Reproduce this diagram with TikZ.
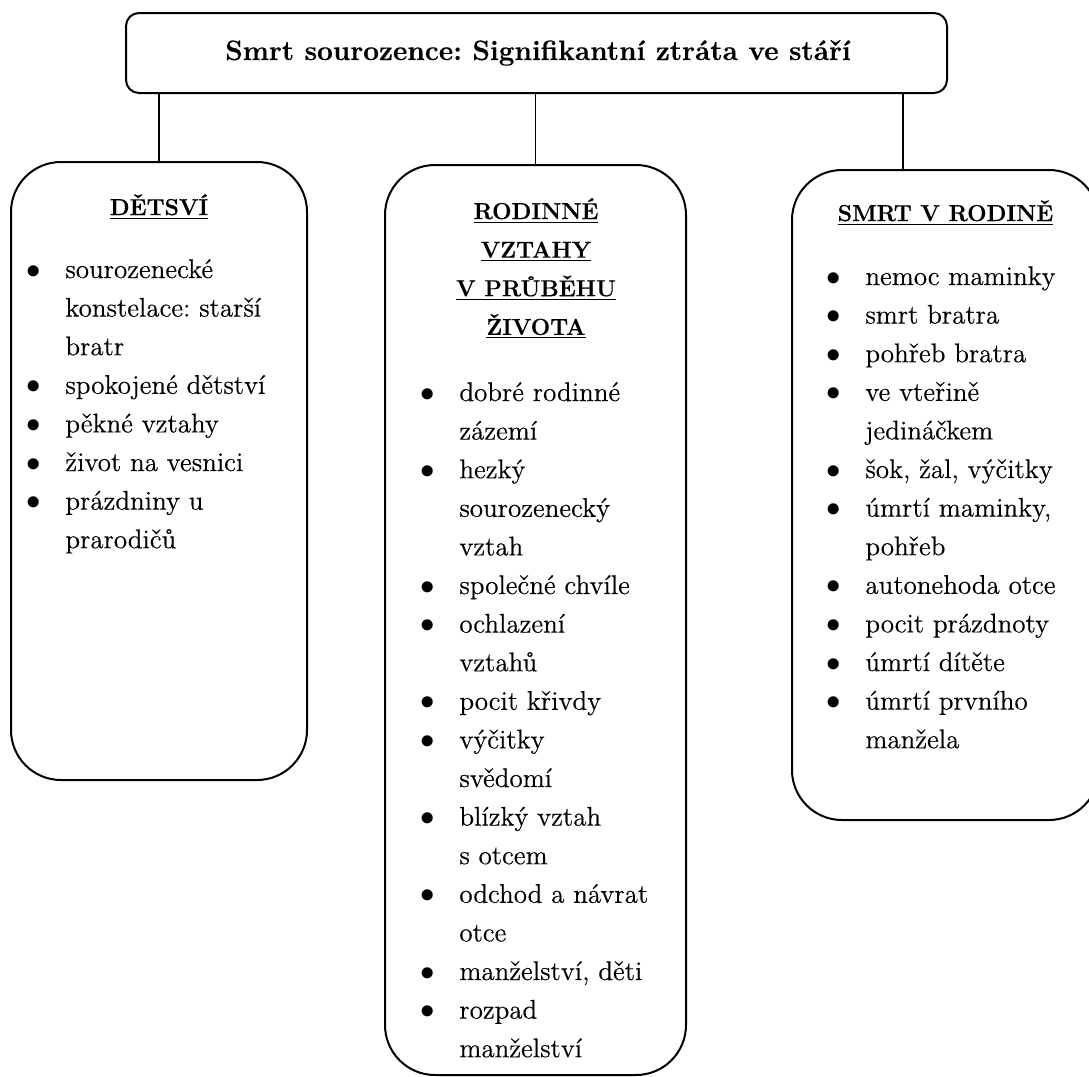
\documentclass[tikz,border=0pt]{standalone}
\usepackage{fontspec}
\usepackage{array}
\setmainfont{Latin Modern Roman}[FakeBold=0.4]
\frenchspacing

% one unit = one pixel of a 1089 x 1077 canvas, y pointing down
\tikzset{
  px/.style={x=0.5pt,y=-0.5pt},
  box/.style={draw, line width=1pt, rounded corners=25pt, inner sep=0pt},
  titlebox/.style={draw, line width=1pt, rounded corners=6.5pt, inner sep=0pt},
  titletext/.style={anchor=base, inner sep=0pt, font=\fontsize{14}{17}\selectfont\bfseries},
  link/.style={line width=0.6pt},
  listtext/.style={anchor=base west, inner sep=0pt, font=\fontsize{13.5}{19.3}\selectfont},
  head/.style={anchor=base, inner sep=0pt, font=\fontsize{11.5}{19.3}\selectfont\bfseries},
}
\newcommand\bul{\makebox[0pt]{$\bullet$}}
\newcommand\hd[1]{\underline{#1}}
\newenvironment{bulletlist}{\begin{tabular}[t]{@{}l@{\hspace{16pt}}l@{}}}{\end{tabular}}

\begin{document}
\begin{tikzpicture}[px]
  \useasboundingbox (0,0) rectangle (1089,1077);
  \clip (0,0) rectangle (1089,1077);

  % title
  \node[titlebox, minimum width=410.5pt, minimum height=40pt] (top) at (536.5,53) {};
  \node[titletext] (toptext) at (538,60) {Smrt sourozence: Signifikantní ztráta ve stáří};

  % the three columns
  \node[box, minimum width=148pt, minimum height=309pt] (dbox) at (159,471) {};
  \node[box, minimum width=150.5pt, minimum height=455pt] (rbox) at (535.5,620) {};
  \node[box, minimum width=153.5pt, minimum height=325pt] (sbox) at (945.5,495) {};

  % connectors
  \coordinate (sjoin) at (903,170);
  \draw[link] (top.south -| dbox.north) -- (dbox.north);
  \draw[link] (top.south -| rbox.north) -- (rbox.north);
  \draw[link] (top.south -| sjoin) -- (sjoin |- sbox.north);

  % headings
  \node[head] (dhead) at (159,215) {\hd{DĚTSVÍ}};
  \node[head] (rhead) at (536,219) {\begin{tabular}[t]{@{}c@{}}
      \hd{RODINNÉ}\\ \hd{VZTAHY}\\ \hd{V PRŮBĚHU}\\ \hd{ŽIVOTA}\end{tabular}};
  \node[head] (shead) at (945.5,221) {\hd{SMRT V RODINĚ}};

  % lists
  \node[listtext] (dlist) at (33,278) {\begin{bulletlist}
    \bul & sourozenecké\\
         & konstelace: starší\\
         & bratr\\
    \bul & spokojené dětství\\
    \bul & pěkné vztahy\\
    \bul & život na vesnici\\
    \bul & prázdniny u\\
         & prarodičů
  \end{bulletlist}};

  \node[listtext] (rlist) at (427,401) {\begin{bulletlist}
    \bul & dobré rodinné\\
         & zázemí\\
    \bul & hezký\\
         & sourozenecký\\
         & vztah\\
    \bul & společné chvíle\\
    \bul & ochlazení\\
         & vztahů\\
    \bul & pocit křivdy\\
    \bul & výčitky\\
         & svědomí\\
    \bul & blízký vztah\\
         & s otcem\\
    \bul & odchod a návrat\\
         & otce\\
    \bul & manželství, děti\\
    \bul & rozpad\\
         & manželství
  \end{bulletlist}};

  \node[listtext] (slist) at (833,285) {\begin{bulletlist}
    \bul & nemoc maminky\\
    \bul & smrt bratra\\
    \bul & pohřeb bratra\\
    \bul & ve vteřině\\
         & jedináčkem\\
    \bul & šok, žal, výčitky\\
    \bul & úmrtí maminky,\\
         & pohřeb\\
    \bul & autonehoda otce\\
    \bul & pocit prázdnoty\\
    \bul & úmrtí dítěte\\
    \bul & úmrtí prvního\\
         & manžela
  \end{bulletlist}};
\end{tikzpicture}
\end{document}
